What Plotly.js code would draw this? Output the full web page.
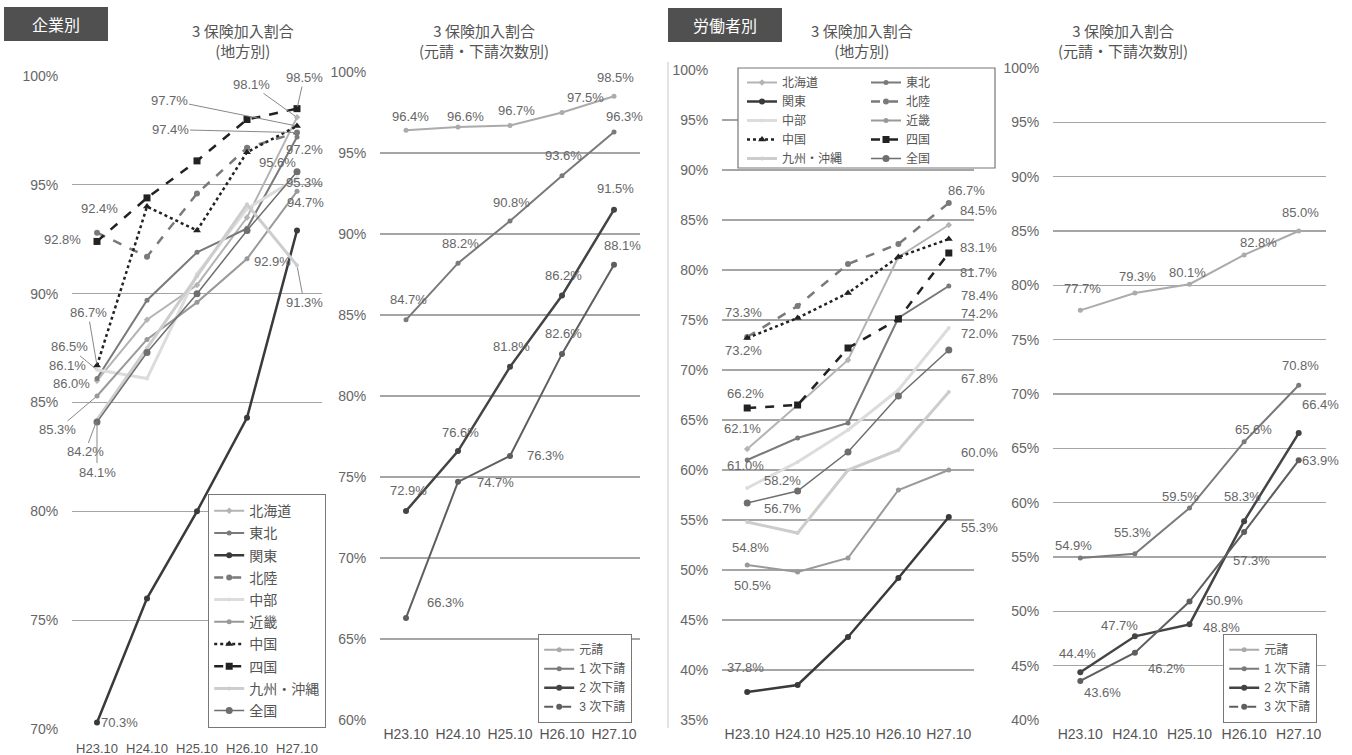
<!DOCTYPE html>
<html><head><meta charset="utf-8">
<script src="https://cdn.plot.ly/plotly-3.0.1.min.js"></script>
<style>html,body{margin:0;padding:0;background:#fff}#chart{width:1352px;height:755px}</style>
</head><body><div id="chart"></div>
<script>
const periods = ['H23.10','H24.10','H25.10','H26.10','H27.10'];
const regionNames = ['北海道','東北','関東','北陸','中部','近畿','中国','四国','九州・沖縄','全国'];
const tierNames = ['元請','1 次下請','2 次下請','3 次下請'];

// 企業別 地方別
const companyRegionValues = [
  [86.0, 88.8, 90.4, 93.5, 98.1],
  [86.1, 89.7, 91.9, 93.0, 97.2],
  [70.3, 76.0, 80.0, 84.3, 92.9],
  [92.8, 91.7, 94.6, 96.7, 97.4],
  [86.5, 86.1, 90.9, 93.9, 95.3],
  [85.3, 87.9, 89.6, 91.6, 94.7],
  [86.7, 94.0, 92.9, 96.5, 97.7],
  [92.4, 94.4, 96.1, 98.0, 98.5],
  [84.2, 87.5, 90.8, 94.1, 91.3],
  [84.1, 87.3, 90.0, 92.9, 95.6]
];
// 企業別 元請・下請次数別
const companyTierValues = [
  [96.4, 96.6, 96.7, 97.5, 98.5],
  [84.7, 88.2, 90.8, 93.6, 96.3],
  [72.9, 76.6, 81.8, 86.2, 91.5],
  [66.3, 74.7, 76.3, 82.6, 88.1]
];
// 労働者別 地方別
const workerRegionValues = [
  [62.1, 66.5, 71.0, 81.3, 84.5],
  [61.0, 63.2, 64.7, 75.2, 78.4],
  [37.8, 38.5, 43.3, 49.2, 55.3],
  [73.3, 76.4, 80.6, 82.6, 86.7],
  [58.2, 60.8, 64.0, 68.0, 74.2],
  [50.5, 49.8, 51.2, 58.0, 60.0],
  [73.2, 75.2, 77.7, 81.3, 83.1],
  [66.2, 66.5, 72.2, 75.1, 81.7],
  [54.8, 53.7, 60.0, 62.0, 67.8],
  [56.7, 57.9, 61.8, 67.4, 72.0]
];
// 労働者別 元請・下請次数別
const workerTierValues = [
  [77.7, 79.3, 80.1, 82.8, 85.0],
  [54.9, 55.3, 59.5, 65.6, 70.8],
  [44.4, 47.7, 48.8, 58.3, 66.4],
  [43.6, 46.2, 50.9, 57.3, 63.9]
];

const W = 1352, H = 755;
const px = v => v / W;
const py = v => 1 - v / H;
const FONT = 'Liberation Sans, Noto Sans CJK JP, sans-serif';
const TXT = '#666';

const regionStyles = [
  {color:'#b4b4b4', width:2,   dash:'solid', symbol:'diamond',     size:5},
  {color:'#7a7a7a', width:2,   dash:'solid', symbol:'circle',      size:5},
  {color:'#3a3a3a', width:2.5, dash:'solid', symbol:'circle',      size:6},
  {color:'#7a7a7a', width:2.5, dash:'dash',  symbol:'circle',      size:6},
  {color:'#dcdcdc', width:3,   dash:'solid', symbol:'circle',      size:4},
  {color:'#999999', width:2,   dash:'solid', symbol:'circle',      size:5},
  {color:'#222222', width:2.5, dash:'dot',   symbol:'triangle-up', size:7},
  {color:'#222222', width:2.5, dash:'dash',  symbol:'square',      size:7},
  {color:'#cdcdcd', width:3,   dash:'solid', symbol:'circle',      size:4},
  {color:'#6e6e6e', width:1.5, dash:'solid', symbol:'circle',      size:7}
];
const tierStyles = [
  {color:'#ababab', width:2,   dash:'solid', symbol:'circle', size:5},
  {color:'#7a7a7a', width:2,   dash:'solid', symbol:'circle', size:5},
  {color:'#444444', width:2.5, dash:'solid', symbol:'circle', size:6},
  {color:'#5e5e5e', width:2,   dash:'solid', symbol:'circle', size:6}
];

// label specs: [series, point, xshift, yshift]  or [series, point, ax, ay, 1] (leader line)
const labels1 = [
  [3,0,-35,-7],[7,0,2,33],[6,0,-9,-53,1],[4,0,-28,-23,1],[1,0,-30,13],[0,0,-26,-3],
  [5,0,-40,34,1],[8,0,-12,32,1],[9,0,0,50,1],[2,0,22,0],
  [7,4,7,-31,1],[0,4,-46,-33,1],[6,4,-128,-26,1],[3,4,-127,-3,1],[1,4,7,-13],
  [9,4,-20,9],[4,4,7,-4],[5,4,8,-11],[2,4,-25,-31],[8,4,7,37,1]
];
const labels2 = [
  [0,0,4,14],[0,1,7,11],[0,2,6,15],[0,3,23,15],[0,4,1,19],
  [1,0,2,20],[1,1,2,20],[1,2,1,19],[1,3,1,20],[1,4,10,15],
  [2,0,2,21],[2,1,2,19],[2,2,1,20],[2,3,1,20],[2,4,1,21],
  [3,0,39,15],[3,1,37,-1],[3,2,35,0],[3,3,1,20],[3,4,8,19]
];
const labels3 = [
  [3,0,-4,25],[6,0,-4,-12],[7,0,-2,15],[0,0,-5,21],[1,0,-2,-5],[4,0,35,8],[9,0,35,-5],
  [8,0,3,-25],[5,0,5,-20],[2,0,-2,25],
  [3,4,18,13],[0,4,30,15],[6,4,30,-8],[7,4,30,-19],[1,4,31,-9],[4,4,31,15],[9,4,31,17],
  [8,4,31,14],[5,4,31,18],[2,4,31,-10]
];
const labels4 = [
  [0,0,2,22],[0,1,3,16],[0,2,-2,12],[0,3,14,12],[0,4,2,19],
  [1,0,-7,13],[1,1,-2,21],[1,2,-9,12],[1,3,9,12],[1,4,2,20],
  [2,0,-3,19],[2,1,-15,11],[2,2,32,-3],[2,3,-2,25],[2,4,22,29],
  [3,0,22,-12],[3,1,32,-16],[3,2,35,1],[3,3,7,-28],[3,4,22,0]
];

const traces = [];
const annotations = [];

function panel(values, names, styles, xa, ya, legendFn, specs, hideLegendIdx, groupPrefix) {
  values.forEach((vals, i) => {
    const st = styles[i];
    const hide = hideLegendIdx === i;
    const t = {
      type:'scatter', mode:'lines+markers', x: periods, y: vals, name: names[i],
      xaxis: xa, yaxis: ya, legend: legendFn(i), showlegend: !hide, cliponaxis:false,
      line:{color:st.color, width:st.width, dash:st.dash},
      marker:{symbol:st.symbol, size:st.size, color:st.color},
      hoverinfo:'skip'
    };
    if (groupPrefix) t.legendgroup = groupPrefix + i;
    traces.push(t);
    if (hide) {
      traces.push({
        type:'scatter', mode:'lines+markers', x:[null], y:[null], name: names[i],
        xaxis: xa, yaxis: ya, legend: legendFn(i), showlegend:true,
        line:{color:st.color, width:st.width, dash:'dash'},
        marker:{symbol:st.symbol, size:st.size, color:st.color}
      });
    }
  });
  specs.forEach(s => {
    const v = values[s[0]][s[1]];
    const a = {
      x: periods[s[1]], y: v, xref: xa, yref: ya,
      text: v.toFixed(1) + '%', font:{family:FONT, size:13, color:TXT}
    };
    if (s[4]) {
      Object.assign(a, {showarrow:true, ax:s[2], ay:s[3], arrowhead:0, arrowwidth:1,
        arrowcolor:'#888', standoff:2});
    } else {
      Object.assign(a, {showarrow:false, xshift:s[2], yshift:s[3]});
    }
    annotations.push(a);
  });
}

panel(companyRegionValues, regionNames, regionStyles, 'x', 'y', () => 'legend', labels1, undefined, 'g');
panel(companyTierValues, tierNames, tierStyles, 'x2', 'y2', () => 'legend2', labels2, 3);
panel(workerRegionValues, regionNames, regionStyles, 'x3', 'y3', i => (i % 2 === 0 ? 'legend3' : 'legend4'), labels3);
panel(workerTierValues, tierNames, tierStyles, 'x4', 'y4', () => 'legend5', labels4, 3);

function xaxis(d0, d1, anchor, fs, tl) {
  return {domain:[px(d0), px(d1)], anchor: anchor, type:'category', range:[-0.5, 4.5],
    showgrid:false, zeroline:false, showline:false, ticks:'outside', ticklen: tl || 1,
    tickcolor:'rgba(0,0,0,0)',
    tickfont:{family:FONT, size:fs || 14, color:'#555'}, fixedrange:true};
}
function yaxis(top, bottom, r0, r1, anchor) {
  return {domain:[py(bottom), py(top)], anchor: anchor, range:[r0, r1], dtick:5,
    ticksuffix:'%', showgrid:true, gridcolor:'#a5a5a5', gridwidth:1.2, zeroline:false,
    showline:false, ticks:'outside', ticklen:10, tickcolor:'rgba(0,0,0,0)',
    tickfont:{family:FONT, size:14, color:TXT}, fixedrange:true};
}

// titles and badges
function title(cx, line2) {
  annotations.push({xref:'paper', yref:'paper', x:px(cx), y:py(18), yanchor:'top', showarrow:false,
    text:'3 保険加入割合<br>' + line2, align:'center',
    font:{family:'Noto Sans CJK JP, sans-serif', size:15, color:'#555'}});
}
title(190, '(地方別)');
title(484, '(元請・下請次数別)');
title(862, '(地方別)');
title(1190, '(元請・下請次数別)');
annotations.push({xref:'paper', yref:'paper', x:px(56), y:py(24), xanchor:'center', yanchor:'middle',
  showarrow:false, text:'企業別',
  font:{family:'Noto Sans CJK JP, sans-serif', size:16, color:'#fff'}});
annotations.push({xref:'paper', yref:'paper', x:px(725), y:py(25), xanchor:'center', yanchor:'middle',
  showarrow:false, text:'労働者別',
  font:{family:'Noto Sans CJK JP, sans-serif', size:16, color:'#fff'}});

const shapes = [
  {type:'rect', xref:'paper', yref:'paper', x0:px(4), x1:px(108), y0:py(41), y1:py(7),
    fillcolor:'#505050', line:{width:0}, layer:'above'},
  {type:'rect', xref:'paper', yref:'paper', x0:px(668), x1:px(782), y0:py(42), y1:py(8),
    fillcolor:'#505050', line:{width:0}, layer:'above'},
  {type:'line', xref:'paper', yref:'paper', x0:px(668), x1:px(668), y0:py(62), y1:py(728),
    line:{color:'#c8c8c8', width:1}, layer:'above'},
  {type:'rect', xref:'paper', yref:'paper', x0:px(738), x1:px(995), y0:py(168), y1:py(68),
    fillcolor:'#fff', line:{color:'#777', width:1.2}, layer:'above'}
];

const small = {family:FONT, size:12, color:'#555'};
const layout = {
  width:W, height:H, autosize:false, margin:{l:0, r:0, t:0, b:0},
  paper_bgcolor:'#fff', plot_bgcolor:'rgba(0,0,0,0)', showlegend:true,
  xaxis: xaxis(72, 322, 'y', 13, 7),   yaxis: yaxis(76, 729, 70, 100, 'x'),
  xaxis2: xaxis(380, 640, 'y2'), yaxis2: yaxis(72, 720, 60, 100, 'x2'),
  xaxis3: xaxis(722, 974, 'y3'), yaxis3: yaxis(70, 720, 35, 100, 'x3'),
  xaxis4: xaxis(1053, 1326, 'y4'), yaxis4: yaxis(68, 720, 40, 100, 'x4'),
  legend: {x:px(208), y:py(494), xanchor:'left', yanchor:'top', bgcolor:'#fff',
    bordercolor:'#777', borderwidth:1.2, font:{family:FONT, size:14, color:'#555'},
    traceorder:'grouped', tracegroupgap:1},
  legend2: {x:px(538), y:py(634), xanchor:'left', yanchor:'top', bgcolor:'#fff',
    bordercolor:'#777', borderwidth:1.2, font:small},
  legend3: {x:px(742), y:py(68), xanchor:'left', yanchor:'top', bgcolor:'rgba(0,0,0,0)',
    borderwidth:0, font:small},
  legend4: {x:px(866), y:py(68), xanchor:'left', yanchor:'top', bgcolor:'rgba(0,0,0,0)',
    borderwidth:0, font:small},
  legend5: {x:px(1223), y:py(634), xanchor:'left', yanchor:'top', bgcolor:'#fff',
    bordercolor:'#777', borderwidth:1.2, font:small},
  annotations: annotations,
  shapes: shapes,
  font:{family:FONT, color:TXT}
};

Plotly.newPlot('chart', traces, layout, {displayModeBar:false, staticPlot:true});
</script>
</body></html>
